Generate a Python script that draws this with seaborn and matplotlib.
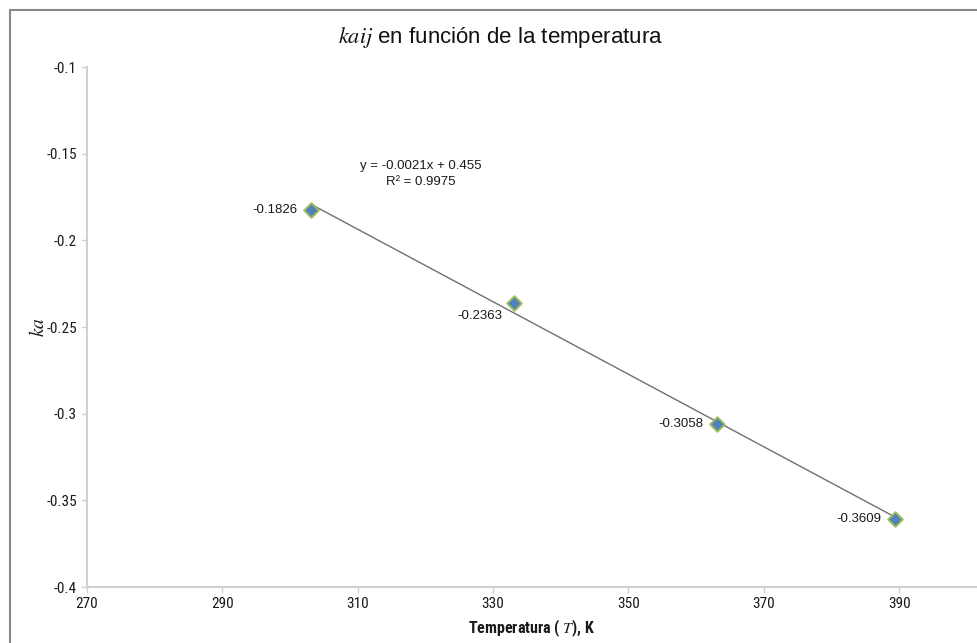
import numpy as np
import pandas as pd
import matplotlib
matplotlib.use("Agg")
import matplotlib.pyplot as plt
from matplotlib.lines import Line2D
from matplotlib import font_manager as fm
import seaborn as sns

# ---- data ----
temperatura = [303.15, 333.15, 363.15, 389.4]
ka = [-0.1826, -0.2363, -0.3058, -0.3609]
point_labels = ["-0.1826", "-0.2363", "-0.3058", "-0.3609"]
x_ticks = [270, 290, 310, 330, 350, 370, 390]
y_ticks = [-0.4, -0.35, -0.3, -0.25, -0.2, -0.15, -0.1]
equation_text = "y = -0.0021x + 0.455\nR² = 0.9975"

df = pd.DataFrame({"T": temperatura, "ka": ka})

sns.set_theme(style="white")
plt.rcParams["font.family"] = ["Liberation Sans", "DejaVu Sans"]
plt.rcParams["mathtext.fontset"] = "stix"


def find_narrow(bold):
    files = [f.fname for f in fm.fontManager.ttflist]
    prefs = ["LiberationSansNarrow", "RobotoCondensed", "Roboto_Condensed",
             "OpenSans_Condensed", "OpenSansCondensed", "DejaVuSansCondensed"]
    for p in prefs:
        for f in files:
            base = f.split("/")[-1].replace("-", "").replace(" ", "")
            if p.replace("_", "") in base.replace("_", ""):
                isbold = "Bold" in base
                isital = "Italic" in base or "Oblique" in base
                if isbold == bold and not isital:
                    return fm.FontProperties(fname=f)
    return fm.FontProperties(family="Liberation Sans",
                             weight="bold" if bold else "normal")


narrow_reg = find_narrow(False)
narrow_bold = find_narrow(True)

W, H = 977, 643
fig = plt.figure(figsize=(W / 100, H / 100), dpi=100)
ax = fig.add_axes([86.7 / W, 1 - 587 / H, 1 - 86.7 / W, (587 - 67) / H])

# trend line
sns.regplot(data=df, x="T", y="ka", ax=ax, scatter=False, ci=None,
            line_kws=dict(color="#707070", linewidth=1.0))
# markers
sns.scatterplot(data=df, x="T", y="ka", ax=ax, marker="D", s=55,
                color="#4F81BD", edgecolor="#9BBB59", linewidth=1.4, zorder=5)

ax.set_xlim(270, 401.5)
ax.set_ylim(-0.4, -0.1)
ax.set_xticks(x_ticks)
ax.set_yticks(y_ticks)
ax.set_xticklabels([str(t) for t in x_ticks])
ax.set_yticklabels([f"{t:g}" for t in y_ticks])

for lab in ax.get_xticklabels() + ax.get_yticklabels():
    lab.set_fontproperties(narrow_reg)
    lab.set_fontsize(11)
    lab.set_color("#1a1a1a")

ax.tick_params(axis="both", which="major", length=4, width=1, color="#D0D0D0",
               direction="out", left=True, bottom=True, pad=3)
for side in ["top", "right"]:
    ax.spines[side].set_visible(False)
for side in ["left", "bottom"]:
    ax.spines[side].set_color("#D0D0D0")
    ax.spines[side].set_linewidth(1.5)

xl = ax.set_xlabel("Temperatura ( $T$), K", color="#1a1a1a", labelpad=5)
xl.set_fontproperties(narrow_bold)
xl.set_fontsize(11.5)
ax.set_ylabel("$ka$", fontsize=14, color="#1a1a1a", labelpad=-1)

# data labels
offsets = [(-14, 0, "right", "center"), (-12, -13, "right", "center"),
           (-14, 0, "right", "center"), (-14, 0, "right", "center")]
for xv, yv, lab, (dx, dy, ha, va) in zip(temperatura, ka, point_labels, offsets):
    ax.annotate(lab, (xv, yv), xytext=(dx, dy), textcoords="offset pixels",
                ha=ha, va=va, fontsize=9.5, color="#1a1a1a")

# equation
fig.text(421 / W, 1 - 174 / H, equation_text, ha="center", va="center",
         multialignment="center", fontsize=9.5, color="#1a1a1a", linespacing=1.4)

# title
fig.text(500 / W, 1 - 37 / H, r"$kaij$ en función de la temperatura",
         ha="center", va="center", fontsize=16, color="#111111")

# chart border (cropped on right and bottom)
fig.add_artist(Line2D([10 / W, 1.01], [1 - 10 / H, 1 - 10 / H],
                      transform=fig.transFigure, color="#888888", linewidth=1.5))
fig.add_artist(Line2D([10 / W, 10 / W], [-0.01, 1 - 10 / H],
                      transform=fig.transFigure, color="#888888", linewidth=1.5))

fig.savefig("out.png", dpi=100)
